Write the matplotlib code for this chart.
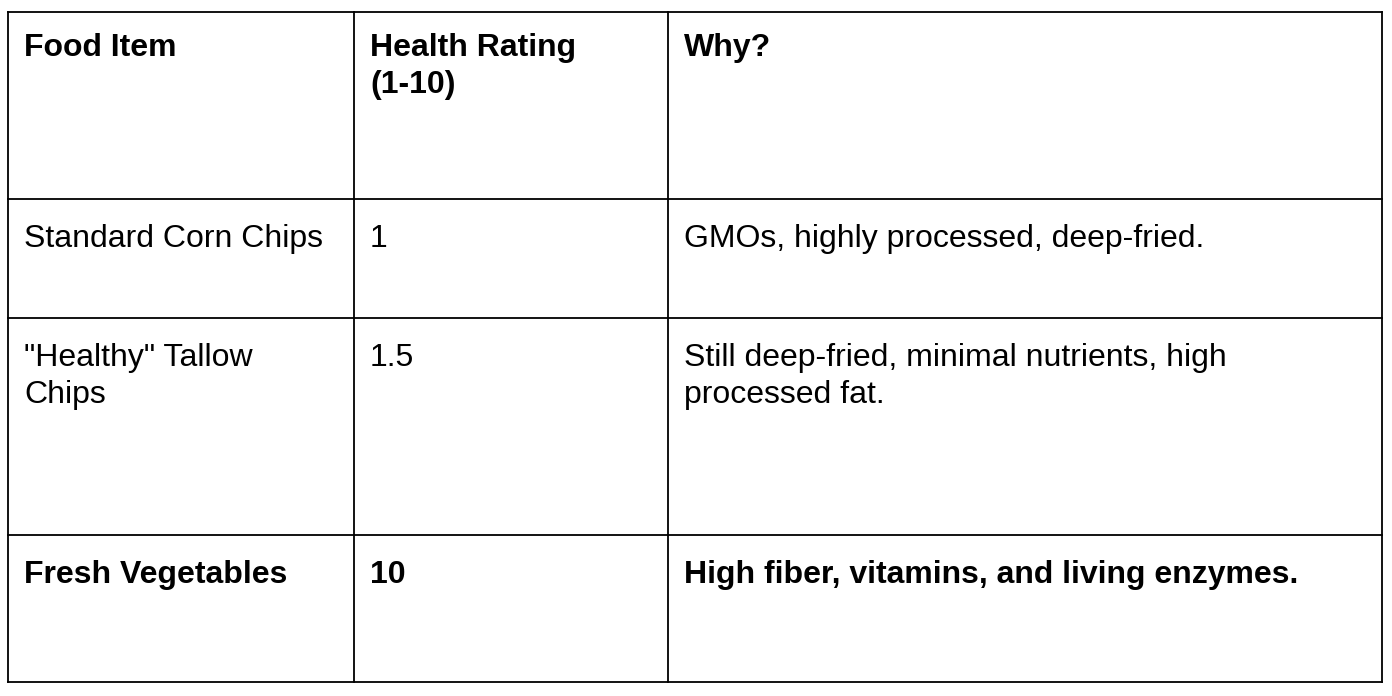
import matplotlib
matplotlib.use("Agg")
import matplotlib.pyplot as plt

headers = ["Food Item", "Health Rating\n(1-10)", "Why?"]
foods = ["Standard Corn Chips", "\"Healthy\" Tallow\nChips", "Fresh Vegetables"]
ratings = ["1", "1.5", "10"]
reasons = ["GMOs, highly processed, deep-fried.",
           "Still deep-fried, minimal nutrients, high\nprocessed fat.",
           "High fiber, vitamins, and living enzymes."]
bold_rows = [False, False, True]

W, H = 1392, 696
col_x = [8, 354, 668, 1382]
row_y = [12, 199, 318, 535, 682]

fig = plt.figure(figsize=(W / 100, H / 100), dpi=100)
ax = fig.add_axes([0, 0, 1, 1])
ax.set_xlim(0, W)
ax.set_ylim(H, 0)
ax.axis("off")

for x in col_x:
    ax.plot([x, x], [row_y[0], row_y[-1]], color="black", lw=1.3)
for y in row_y:
    ax.plot([col_x[0], col_x[-1]], [y, y], color="black", lw=1.3)

fs = 23
kw = dict(fontsize=fs, family="Liberation Sans", va="top", ha="left",
          linespacing=1.3, color="black")

for j, h in enumerate(headers):
    ax.text(col_x[j] + 16, row_y[0] + 21, h, fontweight="bold", **kw)

for i, (f, r, why) in enumerate(zip(foods, ratings, reasons)):
    wt = "bold" if bold_rows[i] else "normal"
    for j, t in enumerate([f, r, why]):
        ax.text(col_x[j] + 16, row_y[i + 1] + 25, t, fontweight=wt, **kw)

fig.savefig("out.png", dpi=100, facecolor="white")
